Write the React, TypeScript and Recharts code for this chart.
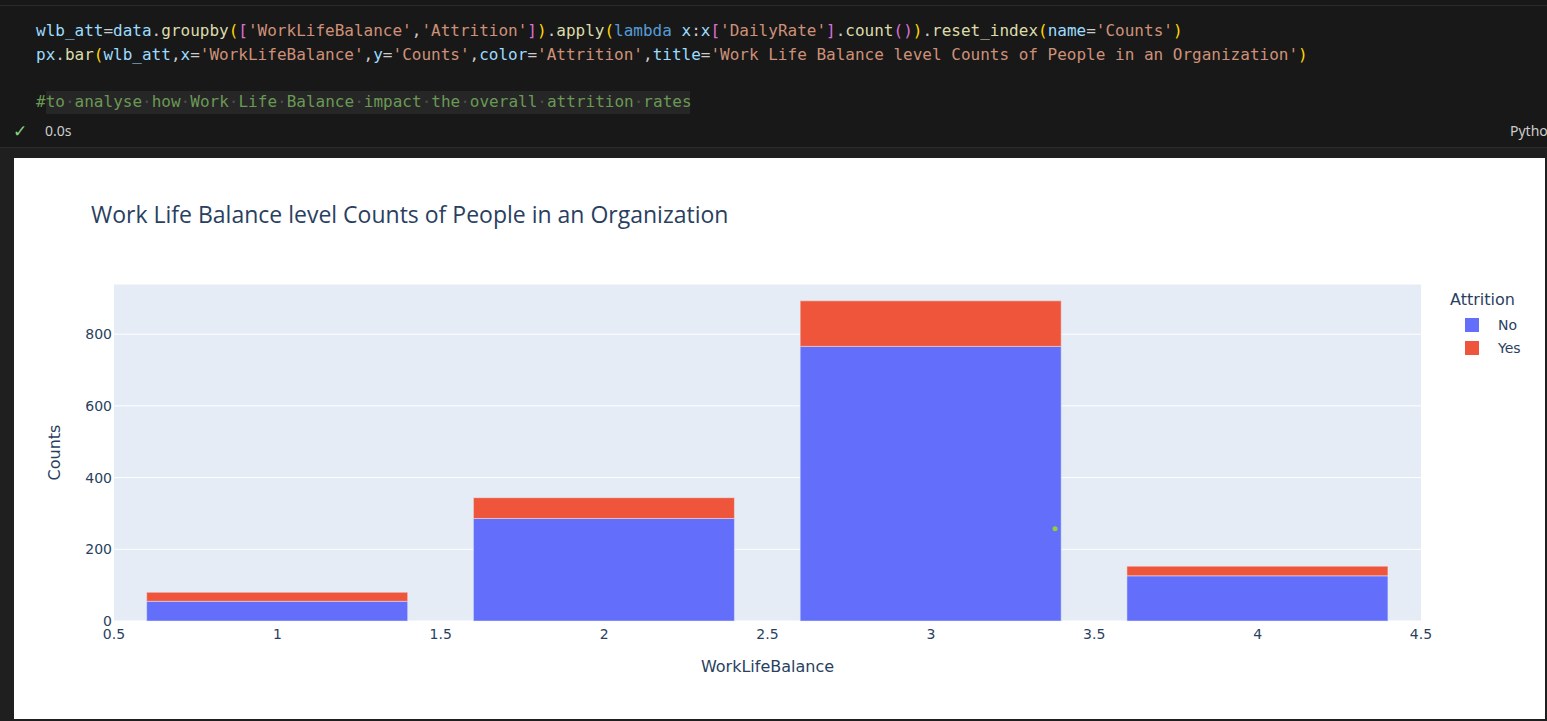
import React from 'react'
import {
  BarChart,
  Bar,
  XAxis,
  YAxis,
  CartesianGrid,
  Legend,
  ReferenceDot,
} from 'recharts'

// values
const workLifeBalance = [1, 2, 3, 4]
const attritionNo = [55, 286, 766, 126]
const attritionYes = [25, 58, 127, 27]
const xTicks = [0.5, 1, 1.5, 2, 2.5, 3, 3.5, 4, 4.5]
const yTicks = [0, 200, 400, 600, 800]
const strayDot = { x: 3.38, y: 257 }

const data = workLifeBalance.map((w, i) => ({
  WorkLifeBalance: w,
  No: attritionNo[i],
  Yes: attritionYes[i],
}))

const VAR = '#9CDCFE'
const FN = '#DCDCAA'
const STR = '#CE9178'
const KW = '#569CD6'
const P = '#CCCCCC'
const B1 = '#FFD700'
const B2 = '#DA70D6'

type Tok = [string, string]

const line1: Tok[] = [
  ['wlb_att', VAR], ['=', P], ['data', VAR], ['.', P], ['groupby', FN], ['(', B1], ['[', B2],
  ["'WorkLifeBalance'", STR], [',', P], ["'Attrition'", STR], [']', B2], [')', B1], ['.', P],
  ['apply', FN], ['(', B1], ['lambda', KW], [' ', P], ['x', VAR], [':', P], ['x', VAR], ['[', B2],
  ["'DailyRate'", STR], [']', B2], ['.', P], ['count', FN], ['()', B2], [')', B1], ['.', P],
  ['reset_index', FN], ['(', B1], ['name', VAR], ['=', P], ["'Counts'", STR], [')', B1],
]
const line2: Tok[] = [
  ['px', VAR], ['.', P], ['bar', FN], ['(', B1], ['wlb_att', VAR], [',', P], ['x', VAR], ['=', P],
  ["'WorkLifeBalance'", STR], [',', P], ['y', VAR], ['=', P], ["'Counts'", STR], [',', P],
  ['color', VAR], ['=', P], ["'Attrition'", STR], [',', P], ['title', VAR], ['=', P],
  ["'Work Life Balance level Counts of People in an Organization'", STR], [')', B1],
]
const comment = '#to analyse how Work Life Balance impact the overall attrition rates'

const renderTokens = (toks: Tok[]) =>
  toks.map((t, i) => (
    <span key={i} style={{ color: t[1] }}>
      {t[0]}
    </span>
  ))

const renderComment = () =>
  comment.split('').map((c, i) =>
    c === ' ' ? (
      <span key={i} style={{ color: '#4e4e4e' }}>
        ·
      </span>
    ) : (
      <span key={i} style={{ color: '#6A9955' }}>
        {c}
      </span>
    )
  )

const plotFont = "'DejaVu Sans', Verdana, sans-serif"
const ink = '#2a3f5f'

const LegendBox = (props: any) => {
  const items = props.payload || []
  return (
    <div style={{ fontFamily: plotFont, color: ink }}>
      <div style={{ fontSize: 16, lineHeight: '20px', height: 20 }}>Attrition</div>
      <div style={{ height: 3.5 }} />
      {items.map((it: any) => (
        <div key={it.value} style={{ position: 'relative', height: 23 }}>
          <div
            style={{
              position: 'absolute',
              left: 15,
              top: 4.5,
              width: 14,
              height: 14,
              background: it.color,
            }}
          />
          <div style={{ position: 'absolute', left: 48, top: 2, fontSize: 14, lineHeight: '19px' }}>
            {it.value}
          </div>
        </div>
      ))}
    </div>
  )
}

export default function App() {
  return (
    <div
      style={{
        position: 'fixed',
        left: 0,
        top: 0,
        width: 1547,
        height: 721,
        background: '#181818',
        overflow: 'hidden',
      }}
    >
      <div style={{ position: 'absolute', left: 0, top: 5, width: 1547, height: 1, background: '#2b2b2b' }} />
      <div
        style={{
          position: 'absolute',
          left: 46,
          top: 91,
          width: 644,
          height: 23,
          background: '#262626',
        }}
      />
      <div
        style={{
          position: 'absolute',
          left: 36,
          top: 19,
          fontFamily: "'DejaVu Sans Mono', 'Liberation Mono', monospace",
          fontSize: 16,
          lineHeight: '23.5px',
          whiteSpace: 'pre',
        }}
      >
        <div>{renderTokens(line1)}</div>
        <div>{renderTokens(line2)}</div>
        <div> </div>
        <div>{renderComment()}</div>
      </div>
      <div
        style={{
          position: 'absolute',
          left: 13,
          top: 121,
          color: '#89D185',
          fontFamily: "'DejaVu Sans', sans-serif",
          fontSize: 17,
          lineHeight: '20px',
        }}
      >
        ✓
      </div>
      <div
        style={{
          position: 'absolute',
          left: 45,
          top: 122,
          color: '#cccccc',
          fontFamily: "'Noto Sans', sans-serif",
          fontSize: 14,
          lineHeight: '18px',
        }}
      >
        0.0s
      </div>
      <div
        style={{
          position: 'absolute',
          left: 1510,
          top: 122,
          color: '#cccccc',
          fontFamily: "'Noto Sans', sans-serif",
          fontSize: 14,
          lineHeight: '18px',
          whiteSpace: 'pre',
        }}
      >
        Python
      </div>
      <div
        style={{
          position: 'absolute',
          left: 0,
          top: 147,
          width: 1547,
          height: 574,
          background: '#1f1f1f',
          borderTop: '1px solid #2b2b2b',
        }}
      />
      <div
        style={{
          position: 'absolute',
          left: 14,
          top: 158,
          width: 1531,
          height: 561,
          background: '#ffffff',
        }}
      >
        <div
          style={{
            position: 'absolute',
            left: 77,
            top: 41,
            fontFamily: "'Open Sans', sans-serif",
            fontSize: 23,
            lineHeight: '30px',
            color: ink,
            whiteSpace: 'pre',
          }}
        >
          Work Life Balance level Counts of People in an Organization
        </div>
        <BarChart
          width={1531}
          height={561}
          data={data}
          margin={{ top: 126, right: 124, left: 20, bottom: 43 }}
          barCategoryGap="10%"
        >
          <CartesianGrid vertical={false} stroke="#ffffff" strokeWidth={1} fill="#E5ECF6" />
          <XAxis
            dataKey="WorkLifeBalance"
            type="number"
            domain={[0.5, 4.5]}
            allowDataOverflow
            ticks={xTicks}
            interval={0}
            axisLine={false}
            tickLine={false}
            height={55}
            tick={{ fill: ink, fontSize: 14, fontFamily: plotFont }}
            label={{
              value: 'WorkLifeBalance',
              position: 'insideBottom',
              offset: 4,
              style: { fill: ink, fontSize: 16, fontFamily: plotFont },
            }}
          />
          <YAxis
            type="number"
            domain={[0, 940]}
            ticks={yTicks}
            interval={0}
            axisLine={false}
            tickLine={false}
            tickMargin={-4}
            width={80}
            tick={{ fill: ink, fontSize: 14, fontFamily: plotFont }}
            label={{
              value: 'Counts',
              angle: -90,
              position: 'insideLeft',
              offset: 20,
              style: { fill: ink, fontSize: 16, fontFamily: plotFont, textAnchor: 'middle' },
            }}
          />
          <Legend
            layout="vertical"
            align="center"
            verticalAlign="middle"
            content={LegendBox}
            wrapperStyle={{ left: 1436, top: 132, width: 100, height: 70 }}
          />
          <Bar
            dataKey="No"
            stackId="a"
            fill="#636EFA"
            stroke="#E5ECF6"
            strokeWidth={0.5}
            isAnimationActive={false}
          />
          <Bar
            dataKey="Yes"
            stackId="a"
            fill="#EF553B"
            stroke="#E5ECF6"
            strokeWidth={0.5}
            isAnimationActive={false}
          />
          <ReferenceDot x={strayDot.x} y={strayDot.y} r={2.5} fill="#9ACD32" stroke="none" />
        </BarChart>
      </div>
    </div>
  )
}
